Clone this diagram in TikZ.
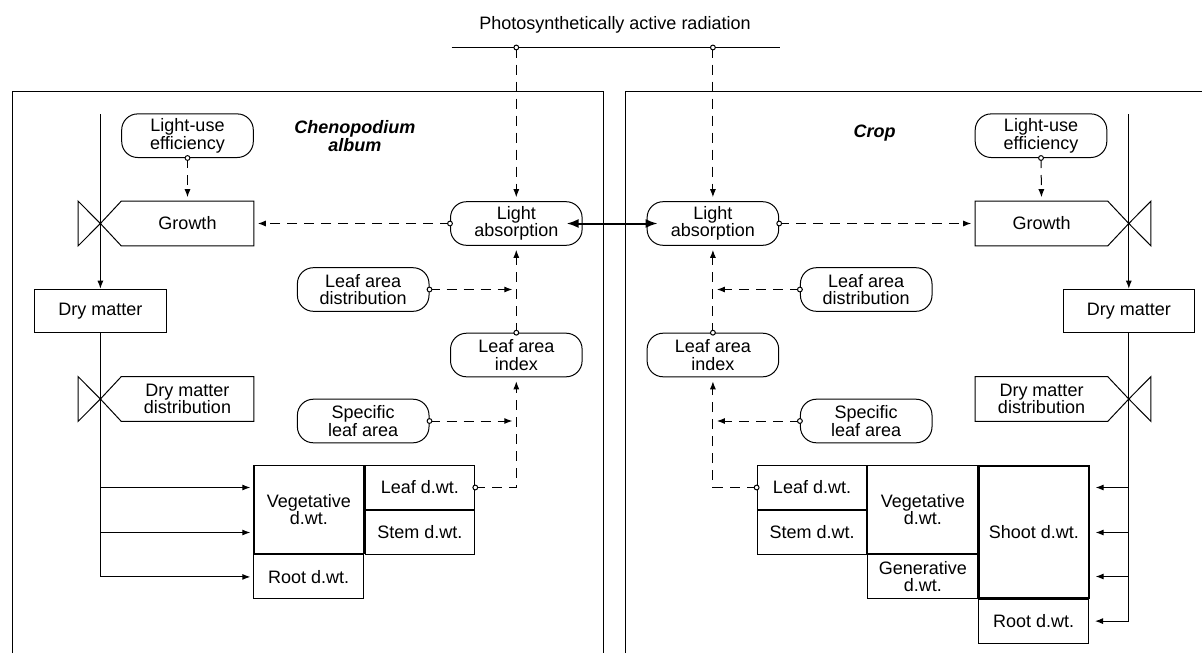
\documentclass[tikz,border=0pt]{standalone}
\usepackage{fontspec}
\setmainfont{Liberation Sans}
\usetikzlibrary{arrows.meta,positioning,calc}

\begin{document}
\begin{tikzpicture}[x=0.5pt,y=-0.5pt,line width=0.5pt,
        every node/.style={font=\fontsize{9}{8.8}\selectfont},
        rbox/.style={draw,rounded corners=8pt,minimum width=65.8pt,
                     minimum height=21.8pt,inner sep=0pt,align=center},
        vbox/.style={minimum width=65.8pt,minimum height=21.8pt,
                     inner sep=0pt,align=center},
        cell/.style={draw,minimum width=54.9pt,minimum height=22pt,
                     inner sep=0pt,align=center,anchor=north west},
        dasharrow/.style={dash pattern=on 5pt off 3.5pt,
                          -{Latex[length=4pt,width=3pt]},shorten >=2pt},
        flowarrow/.style={-{Latex[length=4pt,width=3pt]},shorten >=1.5pt},
        spec/.style={font=\fontsize{9}{8.8}\selectfont\bfseries\itshape,
                     align=center}]
  \useasboundingbox (0,0) rectangle (1202,653);
  % radiation
  \node (par) at (615,25) {Photosynthetically active radiation};
  \coordinate (parl) at (451.6,47.5);
  \coordinate (parr) at (780.4,47.5);
  \draw (parl) -- (parr);
  % panels
  \draw (12.6,653) -- (12.6,91) -- (603,91) -- (603,653);
  \draw (625,653) -- (625,91) -- (1202,91);

  % weed
  \coordinate (lflow) at (100.4,114.3);
  \node[rbox] (llue) at (187.5,135.7) {Light-use\\efficiency};
  \node[spec] (lname) at (354.8,136) {Chenopodium\\album};
  \node[vbox] (lgrow) at (187.5,223.5) {Growth};
  \node[rbox] (llight) at (516.3,223.5) {Light\\absorption};
  \node[rbox] (llad) at (363.2,289.5) {Leaf area\\distribution};
  \node[vbox,draw] (ldry) at (100.4,311) {Dry matter};
  \node[rbox] (llai) at (516.3,355) {Leaf area\\index};
  \node[vbox] (ldmd) at (187.5,399) {Dry matter\\distribution};
  \node[rbox] (lsla) at (363.2,421) {Specific\\leaf area};
  \node[cell,minimum height=44pt,line width=0.7pt] (lveg) at (253.3,465) {Vegetative\\d.wt.};
  \node[cell] (lleaf) at (lveg.north east) {Leaf d.wt.};
  \node[cell] (lstem) at (lleaf.south west) {Stem d.wt.};
  \node[cell] (lroot) at (lveg.south west) {Root d.wt.};
  % valves
  \draw (lgrow.north east) -- (lgrow.south east) -- (lgrow.south west)
        -- (lgrow.west -| lflow) -- (lgrow.north west) -- cycle;
  \draw (lgrow.west -| lflow) -- ($(lgrow.north west)+(-43,0)$)
        -- ($(lgrow.south west)+(-43,0)$) -- cycle;
  \draw (ldmd.north east) -- (ldmd.south east) -- (ldmd.south west)
        -- (ldmd.west -| lflow) -- (ldmd.north west) -- cycle;
  \draw (ldmd.west -| lflow) -- ($(ldmd.north west)+(-43,0)$)
        -- ($(ldmd.south west)+(-43,0)$) -- cycle;
  % flows
  \draw[flowarrow,shorten >=0pt] (lflow) -- (ldry.north);
  \draw (ldry.south) -- (lflow |- lroot);
  \draw[flowarrow] (lflow |- lleaf) -- (lleaf -| lveg.west);
  \draw[flowarrow] (lflow |- lstem) -- (lstem -| lveg.west);
  \draw[flowarrow] (lflow |- lroot) -- (lroot.west);
  % information
  \draw[dasharrow] (parl -| llight) -- (llight.north);
  \draw[dasharrow] (llue.south) -- (lgrow.north);
  \draw[dasharrow] (llight.west) -- (lgrow.east);
  \draw[dasharrow] (llad.east) -- (llad.east -| llight);
  \draw[dasharrow] (llai.north) -- (llight.south);
  \draw[dasharrow] (lsla.east) -- (lsla.east -| llai);
  \draw[dasharrow] (lleaf.east) -| (llai.south);

  % crop
  \coordinate (rflow) at (1128.8,114.3);
  \node[rbox] (rlight) at (712.9,223.5) {Light\\absorption};
  \node[spec] (rname) at (874.5,133) {Crop};
  \node[rbox] (rlue) at (1041,135.7) {Light-use\\efficiency};
  \node[vbox] (rgrow) at (1041.5,223.5) {Growth};
  \node[rbox] (rlad) at (866.2,289.5) {Leaf area\\distribution};
  \node[vbox,draw] (rdry) at (1128.8,311) {Dry matter};
  \node[rbox] (rlai) at (712.9,355) {Leaf area\\index};
  \node[vbox] (rdmd) at (1041.5,399) {Dry matter\\distribution};
  \node[rbox] (rsla) at (866.2,421) {Specific\\leaf area};
  \node[cell] (rleaf) at (756.6,465) {Leaf d.wt.};
  \node[cell] (rstem) at (rleaf.south west) {Stem d.wt.};
  \node[cell,minimum height=44pt] (rveg) at (rleaf.north east) {Vegetative\\d.wt.};
  \node[cell] (rgen) at (rveg.south west) {Generative\\d.wt.};
  \node[cell,minimum height=66pt,line width=0.8pt] (rshoot) at (rveg.north east) {Shoot d.wt.};
  \node[cell] (rroot) at (rshoot.south west) {Root d.wt.};
  % valves
  \draw (rgrow.north west) -- (rgrow.north east) -- (rgrow.east -| rflow)
        -- (rgrow.south east) -- (rgrow.south west) -- cycle;
  \draw (rgrow.east -| rflow) -- ($(rgrow.north east)+(43,0)$)
        -- ($(rgrow.south east)+(43,0)$) -- cycle;
  \draw (rdmd.north west) -- (rdmd.north east) -- (rdmd.east -| rflow)
        -- (rdmd.south east) -- (rdmd.south west) -- cycle;
  \draw (rdmd.east -| rflow) -- ($(rdmd.north east)+(43,0)$)
        -- ($(rdmd.south east)+(43,0)$) -- cycle;
  % flows
  \draw[flowarrow,shorten >=0pt] (rflow) -- (rdry.north);
  \draw (rdry.south) -- (rflow |- rroot);
  \draw[flowarrow,shorten >=3pt] (rflow |- rleaf) -- (rleaf -| rshoot.east);
  \draw[flowarrow,shorten >=3pt] (rflow |- rstem) -- (rstem -| rshoot.east);
  \draw[flowarrow,shorten >=3pt] (rflow |- rgen) -- (rgen -| rshoot.east);
  \draw[flowarrow,shorten >=3pt] (rflow |- rroot) -- (rroot.east);
  % information
  \draw[dasharrow] (parl -| rlight) -- (rlight.north);
  \draw[dasharrow] (rlue.south) -- (rgrow.north);
  \draw[dasharrow] (rlight.east) -- (rgrow.west);
  \draw[dasharrow] (rlad.west) -- (rlad.west -| rlight);
  \draw[dasharrow] (rlai.north) -- (rlight.south);
  \draw[dasharrow] (rsla.west) -- (rsla.west -| rlai);
  \draw[dasharrow] (rleaf.west) -| (rlai.south);

  % competition for light
  \draw[line width=1pt,{Latex[length=6pt,width=4.5pt]}-{Latex[length=6pt,width=4.5pt]},
        shorten <=-8pt,shorten >=-5.5pt] (llight.east) -- (rlight.west);
  % dots
  \foreach \p in {parl -| llight,parl -| rlight,llue.south,rlue.south,
                  llight.west,rlight.east,llad.east,rlad.west,llai.north,
                  rlai.north,lsla.east,rsla.west,lleaf.east,rleaf.west}
    \draw[fill=white] (\p) circle (1.2pt);
\end{tikzpicture}
\end{document}
